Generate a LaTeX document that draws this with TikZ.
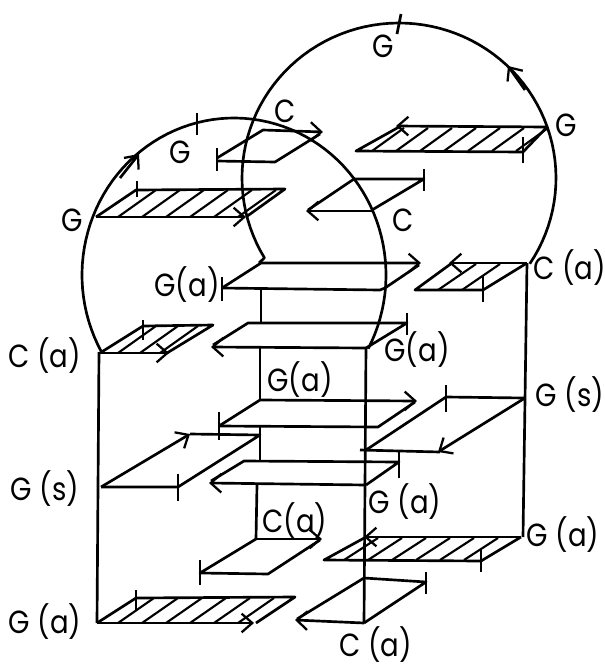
\documentclass[tikz,border=0pt]{standalone}
\usepackage{fontspec}
\setmainfont[FakeStretch=0.86]{Poppins}
\usetikzlibrary{arrows.meta}
\tikzstyle{line}=[line width=2pt, line join=round]
\tikzstyle{arrow}=[line, -{Straight Barb[length=8pt, width=14pt, line width=1.7pt]}]
\tikzstyle{hatching}=[line width=1.6pt]
\tikzstyle{label}=[inner sep=0pt, font=\fontsize{24}{26}\selectfont]
\begin{document}
\begin{tikzpicture}[x=0.75pt, y=-0.75pt]
	\useasboundingbox (0,0) rectangle (605,665);

	% the two loops
	\draw[line] plot[domain=151:388, samples=80] ({234+152*cos(\x)},{275+157*sin(\x)});
	\draw[line] (259,263) -- plot[domain=-211:33.6, samples=80] ({399+157*cos(\x)},{178+155*sin(\x)});
	\draw[arrow] (120,178) -- (139,154);
	\draw[arrow] (525,90) -- (508,66);
	\draw[line] (197,113) -- (197,135);
	\draw[line] (401,14) -- (397,34);

	% left column of rails
	\draw[line] (99,352) -- (97,623);
	\draw[line] (366,347) -- (364,623);
	\draw[line] (527,263) -- (523,537);
	\draw[line] (261,290) -- (261,323);
	\draw[line] (260,348) -- (260,400);
	\draw[line] (260,427) -- (260,461);
	\draw[line] (257,485) -- (256,539);

	% top C
	\draw[arrow] (217,158) -- (263,130) -- (323,132);
	\draw[line] (217,161) -- (275,162) -- (320,134);
	\draw[line] (217,148) -- (217,171);

	% G, hatched
	\draw[arrow] (96,217) -- (246,217);
	\draw[line] (96,217) -- (136,190) -- (285,189) -- (246,217);
	\draw[line] (137,181) -- (137,197);
	\foreach \hx in {118,142,...,238}
		\draw[hatching] (\hx,217) -- (\hx+38,190);

	% right G, hatched
	\draw[arrow] (547,127) -- (396,126);
	\draw[line] (399,127) -- (356,151) -- (523,152) -- (547,127);
	\draw[line] (523,137) -- (523,163);
	\foreach \hx in {372,396,...,516}
		\draw[hatching] (\hx,151) -- (\hx+32,128);

	% middle C
	\draw[arrow] (372,211) -- (306,211);
	\draw[line] (308,210) -- (354,179) -- (424,179) -- (372,210);
	\draw[line] (424,169) -- (424,191);

	% G(a) planes
	\draw[arrow] (222,288) -- (261,263) -- (421,263);
	\draw[line] (222,288) -- (380,290) -- (385,288) -- (419,265);
	\draw[line] (222,277) -- (222,301);

	\draw[arrow] (366,348) -- (211,347);
	\draw[line] (213,345) -- (248,323) -- (407,323) -- (366,348);
	\draw[line] (407,313) -- (407,335);

	\draw[arrow] (219,426) -- (260,400) -- (417,401);
	\draw[line] (219,426) -- (378,427) -- (415,402);
	\draw[line] (219,412) -- (219,440);

	\draw[arrow] (366,485) -- (209,483);
	\draw[line] (211,481) -- (244,461) -- (399,462) -- (366,485);
	\draw[line] (399,452) -- (399,478);

	% C(a) right, hatched
	\draw[arrow] (527,263) -- (449,263);
	\draw[line] (452,263) -- (415,290) -- (483,290) -- (527,263);
	\draw[line] (483,275) -- (483,302);
	\foreach \hx in {438,462}
		\draw[hatching] (\hx,290) -- (\hx+38,264);

	% C(a) left, hatched
	\draw[arrow] (100,353) -- (169,353);
	\draw[line] (100,353) -- (143,326) -- (213,325) -- (167,353);
	\draw[line] (143,320) -- (143,340);
	\foreach \hx in {118,140,160}
		\draw[hatching] (\hx,353) -- (\hx+38,326);

	% G(s) planes
	\draw[arrow] (101,487) -- (190,434);
	\draw[line] (190,434) -- (260,435) -- (178,487) -- (101,487);
	\draw[line] (178,474) -- (178,501);

	\draw[arrow] (525,398) -- (438,452);
	\draw[line] (525,398) -- (446,397) -- (366,450);
	\draw[line] (360,450) -- (440,452);
	\draw[line] (446,385) -- (446,412);

	% inner C(a)
	\draw[arrow] (256,539) -- (322,539);
	\draw[line] (320,540) -- (268,574) -- (200,573) -- (256,539);
	\draw[line] (200,560) -- (200,585);

	% lower G(a), hatched
	\draw[arrow] (521,537) -- (364,537);
	\draw[line] (366,537) -- (324,560) -- (481,561) -- (521,537);
	\draw[line] (481,548) -- (481,572);
	\foreach \hx in {344,368,...,464}
		\draw[hatching] (\hx,560) -- (\hx+34,538);

	% bottom C(a)
	\draw[arrow] (364,623) -- (295,620);
	\draw[line] (297,619) -- (364,578) -- (426,582) -- (364,623);
	\draw[line] (426,572) -- (426,594);

	% bottom G(a), hatched
	\draw[arrow] (97,623) -- (254,623);
	\draw[line] (97,623) -- (136,598) -- (295,597) -- (256,623);
	\draw[line] (136,590) -- (136,610);
	\foreach \hx in {118,142,...,238}
		\draw[hatching] (\hx,623) -- (\hx+36,598);

	% labels
	\node(g1)[label] at (383,46) {G};
	\node(g2)[label] at (180,152) {G};
	\node(g3)[label] at (72,220) {G};
	\node(g4)[label] at (566,125) {G};
	\node(c1)[label] at (285,111) {C};
	\node(c2)[label] at (403,220) {C};
	\node(ca1)[label] at (570,268) {C (a)};
	\node(ca2)[label] at (45,356) {C (a)};
	\node(ca3)[label] at (295,521) {C(a)};
	\node(ca4)[label] at (376,645) {C (a)};
	\node(ga1)[label] at (187,285) {G(a)};
	\node(ga2)[label] at (417,350) {G(a)};
	\node(ga3)[label] at (300,380) {G(a)};
	\node(ga4)[label] at (405,502) {G (a)};
	\node(ga5)[label] at (563,535) {G (a)};
	\node(ga6)[label] at (45,622) {G (a)};
	\node(gs1)[label] at (570,395) {G (s)};
	\node(gs2)[label] at (45,489) {G (s)};
\end{tikzpicture}
\end{document}
